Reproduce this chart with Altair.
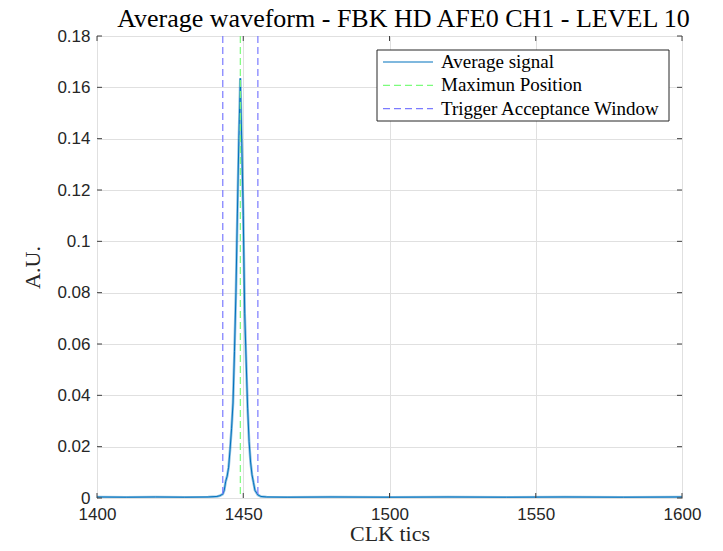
import altair as alt
import pandas as pd

# ---- data ----
clk = [1400, 1410, 1420, 1430, 1438, 1441, 1442, 1443, 1443.5, 1444, 1444.5, 1445,
       1445.5, 1446, 1446.5, 1447, 1447.5, 1448, 1448.5, 1449, 1449.5, 1450, 1450.5,
       1451, 1451.5, 1452, 1452.5, 1453, 1453.5, 1454, 1455, 1456, 1458, 1465, 1480,
       1500, 1520, 1540, 1560, 1580, 1600]
avg = [0.0004, 0.0003, 0.0004, 0.0003, 0.0004, 0.0006, 0.0009, 0.0015, 0.003, 0.0065,
       0.0085, 0.012, 0.019, 0.027, 0.037, 0.057, 0.080, 0.111, 0.140, 0.1635, 0.138,
       0.110, 0.072, 0.053, 0.035, 0.022, 0.014, 0.009, 0.006, 0.003, 0.0012, 0.0006,
       0.0004, 0.0003, 0.0004, 0.0003, 0.0004, 0.0003, 0.0004, 0.0003, 0.0004]
max_pos = [1449]
window = [1443, 1455]

x_ticks = [1400, 1450, 1500, 1550, 1600]
y_ticks = [0, 0.02, 0.04, 0.06, 0.08, 0.1, 0.12, 0.14, 0.16, 0.18]

labels = ["Average signal", "Maximun Position", "Trigger Acceptance Window"]
colors = ["#0072BD", "#7CFC7C", "#7B7BFF"]

W, H = 585, 462
SERIF = "Liberation Serif"
SANS = "Liberation Sans"
AXC = "#404040"
DASH = [7, 4]

df = pd.DataFrame({"clk": clk, "avg": avg})
xs = alt.Scale(domain=[1400, 1600], nice=False, zero=False)
ys = alt.Scale(domain=[0, 0.18], nice=False)

x_ax = alt.Axis(values=x_ticks, format="d", title="CLK tics", grid=True,
                titleBaseline="alphabetic", titleY=42)
y_ax = alt.Axis(values=y_ticks, format="~g", title="A.U.", grid=True)

base = alt.Chart(df)

light = base.mark_line(color="#0072BD", opacity=0.45, strokeWidth=2.6, clip=True).encode(
    x=alt.X("clk:Q", scale=xs, axis=x_ax),
    y=alt.Y("avg:Q", scale=ys, axis=y_ax),
)
dark = base.mark_line(color="#0072BD", strokeWidth=1, clip=True).encode(
    x=alt.X("clk:Q", scale=xs),
    y=alt.Y("avg:Q", scale=ys),
)

maxdf = pd.DataFrame({"x": max_pos})
windf = pd.DataFrame({"x": window})
max_rule = alt.Chart(maxdf).mark_rule(color=colors[1], strokeDash=DASH, strokeWidth=1.2).encode(
    x=alt.X("x:Q", scale=xs)
)
win_rule = alt.Chart(windf).mark_rule(color=colors[2], strokeDash=DASH, strokeWidth=1.2).encode(
    x=alt.X("x:Q", scale=xs)
)

# inward tick marks (MATLAB style)
xt = pd.DataFrame({"v": x_ticks})
yt = pd.DataFrame({"v": y_ticks})
tick_b = alt.Chart(xt).mark_rule(color=AXC).encode(
    x=alt.X("v:Q", scale=xs), y=alt.value(H), y2=alt.value(H - 5))
tick_t = alt.Chart(xt).mark_rule(color=AXC).encode(
    x=alt.X("v:Q", scale=xs), y=alt.value(0), y2=alt.value(5))
tick_l = alt.Chart(yt).mark_rule(color=AXC).encode(
    y=alt.Y("v:Q", scale=ys), x=alt.value(0), x2=alt.value(5))
tick_r = alt.Chart(yt).mark_rule(color=AXC).encode(
    y=alt.Y("v:Q", scale=ys), x=alt.value(W), x2=alt.value(W - 5))

# legend box
one = pd.DataFrame({"a": [0]})
box = alt.Chart(one).mark_rect(fill="white", stroke="#262626", strokeWidth=1).encode(
    x=alt.value(280), x2=alt.value(572), y=alt.value(14), y2=alt.value(85))

legend_layers = []
dashes = [[1, 0], DASH, DASH]
for i, (lab, col, dsh) in enumerate(zip(labels, colors, dashes)):
    yy = 26 + 23.3 * i
    ldf = pd.DataFrame({"label": [lab]})
    legend_layers.append(
        alt.Chart(ldf).mark_rule(color=col, strokeDash=dsh, strokeWidth=1.2).encode(
            x=alt.value(286), x2=alt.value(336), y=alt.value(yy)))
    legend_layers.append(
        alt.Chart(ldf).mark_text(align="left", baseline="middle", font=SERIF,
                                 fontSize=19, color="#000000").encode(
            x=alt.value(344), y=alt.value(yy), text="label:N"))

chart = alt.layer(
    light, dark, max_rule, win_rule, tick_b, tick_t, tick_l, tick_r, box, *legend_layers
).properties(
    width=W, height=H,
    title=alt.TitleParams("Average waveform - FBK HD AFE0 CH1 - LEVEL 10",
                          font=SERIF, fontSize=26, fontWeight="normal",
                          color="#000000", anchor="middle",
                          offset=0, dx=14, dy=5),
    autosize=alt.AutoSizeParams(type="none"),
    padding={"left": 89, "top": 28, "right": 30, "bottom": 45},
).configure_view(
    stroke=AXC, strokeWidth=1
).configure_axis(
    domain=False, ticks=False, labelFlush=False, gridColor="#E0E0E0", gridWidth=1,
    labelFont=SANS, labelFontSize=17, labelColor="#262626",
    titleFont=SERIF, titleFontSize=22, titleFontWeight="normal", titleColor="#262626",
).configure_axisX(
    labelPadding=8
).configure_axisY(
    labelPadding=7, titlePadding=12
)

chart.save("out.html", embed_options={"renderer": "svg", "actions": False})
